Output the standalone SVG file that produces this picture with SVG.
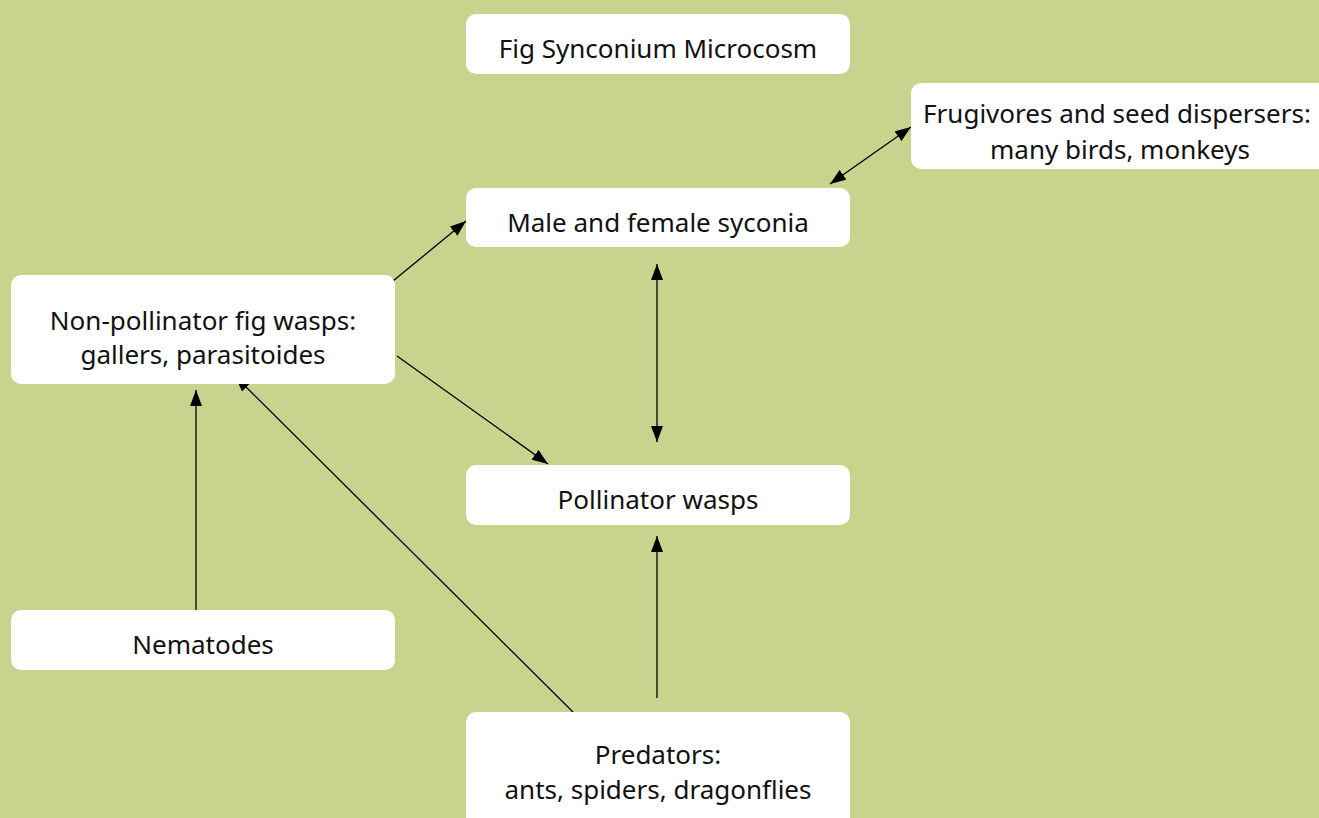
<svg xmlns="http://www.w3.org/2000/svg" width="1319" height="818" viewBox="0 0 1319 818">
<style>
.n{fill:#ffffff;stroke:none}
.t{font-family:"Noto Sans","Open Sans",sans-serif;font-size:26px;fill:#111111;text-anchor:middle}
.c{stroke:#000;stroke-width:1.3;fill:none}
</style>
<defs>
<marker id="ah" viewBox="0 0 16 12" refX="16" refY="6" markerWidth="16" markerHeight="12" markerUnits="userSpaceOnUse" orient="auto-start-reverse">
<path d="M0,0 L16,6 L0,12 Z" fill="#000"/>
</marker>
</defs>
<rect width="1319" height="818" fill="#c9d38e"/>
<g id="connectors">
<line class="c" x1="393" y1="281" x2="466" y2="221" marker-end="url(#ah)"/>
<line class="c" x1="830" y1="184" x2="911" y2="127" marker-start="url(#ah)" marker-end="url(#ah)"/>
<line class="c" x1="657" y1="264" x2="657" y2="442" marker-start="url(#ah)" marker-end="url(#ah)"/>
<line class="c" x1="397" y1="356" x2="548" y2="464" marker-end="url(#ah)"/>
<line class="c" x1="196" y1="610" x2="196" y2="390" marker-end="url(#ah)"/>
<line class="c" x1="573" y1="712" x2="235" y2="376" marker-end="url(#ah)"/>
<line class="c" x1="657" y1="698" x2="657" y2="536" marker-end="url(#ah)"/>
</g>
<g id="title">
<rect class="n" x="466" y="14" width="384" height="60" rx="10"/>
<text class="t" x="658" y="58">Fig Synconium Microcosm</text>
</g>
<g id="frugivores">
<rect class="n" x="911" y="83" width="420" height="86" rx="10"/>
<text class="t" x="1117" y="123">Frugivores and seed dispersers:</text>
<text class="t" x="1120" y="159">many birds, monkeys</text>
</g>
<g id="syconia">
<rect class="n" x="466" y="188" width="384" height="59" rx="10"/>
<text class="t" x="658" y="232">Male and female syconia</text>
</g>
<g id="nonpollinator">
<rect class="n" x="11" y="275" width="384" height="109" rx="10"/>
<text class="t" x="203" y="330">Non-pollinator fig wasps:</text>
<text class="t" x="203" y="364">gallers, parasitoides</text>
</g>
<g id="pollinator">
<rect class="n" x="466" y="465" width="384" height="60" rx="10"/>
<text class="t" x="658" y="509">Pollinator wasps</text>
</g>
<g id="nematodes">
<rect class="n" x="11" y="610" width="384" height="60" rx="10"/>
<text class="t" x="203" y="654">Nematodes</text>
</g>
<g id="predators">
<rect class="n" x="466" y="712" width="384" height="120" rx="10"/>
<text class="t" x="658" y="764">Predators:</text>
<text class="t" x="658" y="799">ants, spiders, dragonflies</text>
</g>
</svg>
